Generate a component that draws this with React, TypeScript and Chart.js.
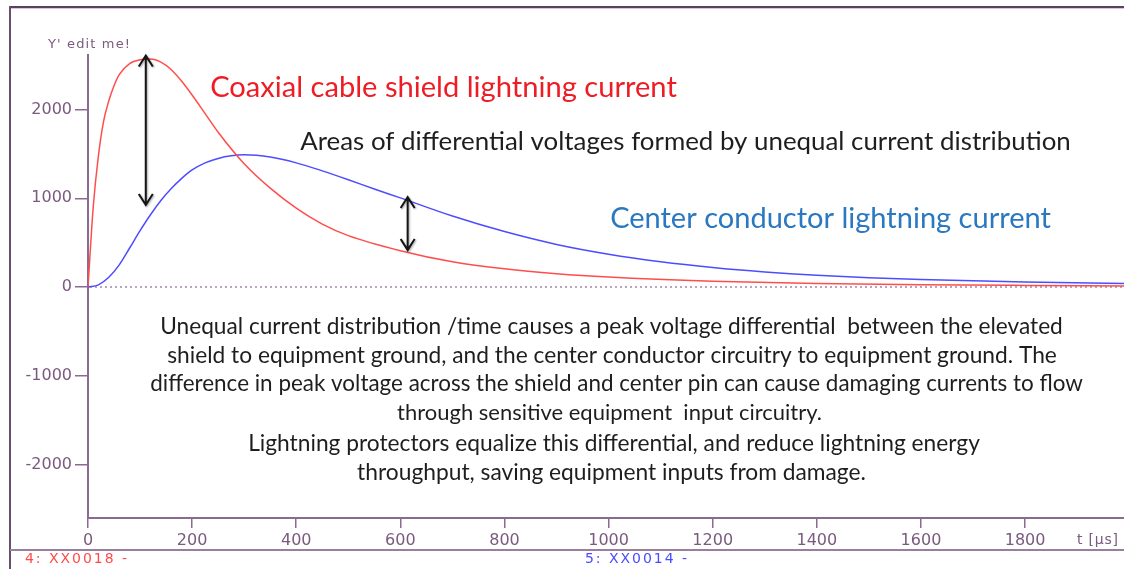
import React, { useEffect, useRef } from "react";
import { Chart, registerables } from "chart.js";

Chart.register(...registerables);

// ---- data ----
const shieldTimes = [0, 10, 20, 30, 40, 50, 60, 80, 100, 120, 140, 160, 180, 200, 225, 250, 300, 350, 400, 450, 500, 600, 700, 800, 900, 1000, 1200, 1400, 1600, 1800, 1990];
const shieldCurrent = [0, 900, 1480, 1870, 2100, 2270, 2395, 2520, 2562, 2570, 2535, 2450, 2320, 2165, 1955, 1745, 1390, 1115, 890, 710, 580, 410, 285, 205, 150, 112, 65, 40, 26, 18, 13];
const centerTimes = [0, 20, 40, 60, 80, 100, 120, 140, 160, 180, 200, 225, 250, 275, 300, 350, 400, 450, 500, 550, 600, 700, 800, 900, 1000, 1100, 1200, 1300, 1400, 1500, 1600, 1800, 1990];
const centerCurrent = [0, 25, 110, 250, 440, 635, 815, 975, 1110, 1225, 1320, 1400, 1450, 1480, 1490, 1465, 1400, 1310, 1210, 1105, 1005, 800, 625, 480, 370, 285, 220, 170, 132, 105, 85, 57, 40];
const xTickValues = [0, 200, 400, 600, 800, 1000, 1200, 1400, 1600, 1800];
const yTickValues = [-2000, -1000, 0, 1000, 2000];
const arrowX = [111, 614];
const arrowTop = [2610, 1015];
const arrowBottom = [925, 417];

const AXIS = "#8a6a8e";
const TICKTXT = "#7a5a7e";

function fitText(ctx: CanvasRenderingContext2D, text: string, x: number, cy: number, width: number, family: string, color: string, align: CanvasTextAlign = "center") {
  ctx.font = `20px ${family}`;
  const w = ctx.measureText(text).width;
  const size = (20 * width) / w;
  ctx.font = `${size}px ${family}`;
  ctx.fillStyle = color;
  ctx.textAlign = align;
  ctx.textBaseline = "middle";
  ctx.fillText(text, x, cy);
}

function spacedText(ctx: CanvasRenderingContext2D, text: string, x: number, cy: number, width: number, size: number, family: string, color: string) {
  ctx.save();
  ctx.font = `${size}px ${family}`;
  const w = ctx.measureText(text).width;
  const extra = Math.max(0, (width - w) / Math.max(1, text.length - 1));
  (ctx as any).letterSpacing = `${extra.toFixed(2)}px`;
  ctx.fillStyle = color;
  ctx.textAlign = "left";
  ctx.textBaseline = "middle";
  ctx.fillText(text, x, cy);
  ctx.restore();
}

function drawArrow(ctx: CanvasRenderingContext2D, x: number, y1: number, y2: number) {
  ctx.save();
  ctx.strokeStyle = "#151515";
  ctx.lineWidth = 2;
  ctx.shadowColor = "rgba(0,0,0,0.35)";
  ctx.shadowBlur = 2;
  ctx.shadowOffsetX = 1;
  ctx.shadowOffsetY = 1;
  ctx.beginPath();
  ctx.moveTo(x, y1);
  ctx.lineTo(x, y2);
  ctx.moveTo(x - 7, y1 + 11);
  ctx.lineTo(x, y1);
  ctx.lineTo(x + 7, y1 + 11);
  ctx.moveTo(x - 7, y2 - 11);
  ctx.lineTo(x, y2);
  ctx.lineTo(x + 7, y2 - 11);
  ctx.stroke();
  ctx.restore();
}

const overlay = {
  id: "overlay",
  beforeDraw(chart: any) {
    const ctx: CanvasRenderingContext2D = chart.ctx;
    const W = chart.width;
    const H = chart.height;
    ctx.save();
    ctx.fillStyle = "#ffffff";
    ctx.fillRect(0, 0, W, H);
    ctx.fillStyle = "#5c4060";
    ctx.fillRect(9, 6, W - 9, 2);
    ctx.fillStyle = "#d6c6d8";
    ctx.fillRect(9, 8, W - 9, 1);
    ctx.fillStyle = "#6a4e6e";
    ctx.fillRect(9, 6, 2, H - 6);
    ctx.fillStyle = "#9a7e9e";
    ctx.fillRect(10, 549, W - 10, 2);
    ctx.restore();
  },
  beforeDatasetsDraw(chart: any) {
    const ctx: CanvasRenderingContext2D = chart.ctx;
    const y0 = chart.scales.y.getPixelForValue(0);
    const a = chart.chartArea;
    ctx.save();
    ctx.strokeStyle = "#a488a8";
    ctx.lineWidth = 1.5;
    ctx.setLineDash([2, 3]);
    ctx.beginPath();
    ctx.moveTo(a.left + 2, y0);
    ctx.lineTo(a.right, y0);
    ctx.stroke();
    ctx.restore();
  },
  afterDraw(chart: any) {
    const ctx: CanvasRenderingContext2D = chart.ctx;
    const xs = chart.scales.x;
    const ys = chart.scales.y;
    for (let i = 0; i < arrowX.length; i++) {
      drawArrow(ctx, xs.getPixelForValue(arrowX[i]), ys.getPixelForValue(arrowTop[i]), ys.getPixelForValue(arrowBottom[i]));
    }
    ctx.save();
    const fam = "Lato, 'Open Sans', sans-serif";
    fitText(ctx, "Coaxial cable shield lightning current", 443.5, 88, 467, fam, "#ee1c24");
    fitText(ctx, "Areas of differential voltages formed by unequal current distribution", 685.5, 142, 771, fam, "#1e1e1e");
    fitText(ctx, "Center conductor lightning current", 830.5, 219, 441, fam, "#2a78c0");
    const para = [
      ["Unequal current distribution /time causes a peak voltage differential  between the elevated", 611.5, 327, 903],
      ["shield to equipment ground, and the center conductor circuitry to equipment ground. The", 612, 356, 890],
      ["difference in peak voltage across the shield and center pin can cause damaging currents to flow", 616.5, 384, 933],
      ["through sensitive equipment  input circuitry.", 609.5, 413, 425],
      ["Lightning protectors equalize this differential, and reduce lightning energy", 614, 444, 732],
      ["throughput, saving equipment inputs from damage.", 611.5, 473, 509],
    ] as [string, number, number, number][];
    for (const [t, cx, cy, w] of para) fitText(ctx, t, cx, cy, w, fam, "#1e1e1e");

    const sans = "'DejaVu Sans', sans-serif";
    spacedText(ctx, "Y' edit me!", 48, 45, 82, 13, sans, TICKTXT);
    spacedText(ctx, "t [µs]", 1077, 540, 41, 14, sans, TICKTXT);
    spacedText(ctx, "4: XX0018 -", 25, 559, 102, 14, sans, "#ff4a4a");
    spacedText(ctx, "5: XX0014 -", 585, 559, 102, 14, sans, "#4a4aff");
    ctx.restore();
  },
};

export default function App() {
  const ref = useRef<HTMLCanvasElement | null>(null);
  useEffect(() => {
    if (!ref.current) return;
    const chart = new Chart(ref.current, {
      type: "line",
      data: {
        datasets: [
          {
            label: "Coaxial cable shield lightning current",
            data: shieldTimes.map((t, i) => ({ x: t, y: shieldCurrent[i] })),
            borderColor: "#ff4d4d",
            borderWidth: 1.5,
            pointRadius: 0,
            cubicInterpolationMode: "monotone",
            fill: false,
          },
          {
            label: "Center conductor lightning current",
            data: centerTimes.map((t, i) => ({ x: t, y: centerCurrent[i] })),
            borderColor: "#4d4dff",
            borderWidth: 1.5,
            pointRadius: 0,
            cubicInterpolationMode: "monotone",
            fill: false,
          },
        ],
      },
      options: {
        animation: false,
        responsive: false,
        events: [],
        layout: { padding: { top: 55, bottom: 19, left: 0, right: 0 } },
        plugins: { legend: { display: false }, tooltip: { enabled: false } },
        scales: {
          x: {
            type: "linear",
            min: 0,
            max: 1990,
            afterBuildTicks: (s: any) => {
              s.ticks = xTickValues.map((v) => ({ value: v }));
            },
            afterFit: (s: any) => {
              s.height = 32;
            },
            ticks: {
              color: TICKTXT,
              font: { family: "'DejaVu Sans', sans-serif", size: 16 },
              padding: 3,
              maxRotation: 0,
              autoSkip: false,
              callback: (v: any) => String(v),
            },
            grid: { display: true, drawOnChartArea: false, drawTicks: true, tickLength: 10, color: AXIS, lineWidth: 1.5 },
            border: { display: true, color: AXIS, width: 2 },
          },
          y: {
            type: "linear",
            min: -2604,
            max: 2616,
            afterBuildTicks: (s: any) => {
              s.ticks = yTickValues.map((v) => ({ value: v }));
            },
            afterFit: (s: any) => {
              s.width = 88;
            },
            ticks: {
              color: TICKTXT,
              font: { family: "'DejaVu Sans', sans-serif", size: 16 },
              padding: 3,
              autoSkip: false,
              callback: (v: any) => String(v),
            },
            grid: { display: true, drawOnChartArea: false, drawTicks: true, tickLength: 13, color: AXIS, lineWidth: 1.5 },
            border: { display: true, color: AXIS, width: 2 },
          },
        },
      },
      plugins: [overlay],
    } as any);
    return () => chart.destroy();
  }, []);
  return (
    <div style={{ position: "absolute", left: 0, top: 0, width: 1124, height: 569 }}>
      <canvas ref={ref} width={1124} height={569} style={{ display: "block", width: 1124, height: 569 }} />
    </div>
  );
}
